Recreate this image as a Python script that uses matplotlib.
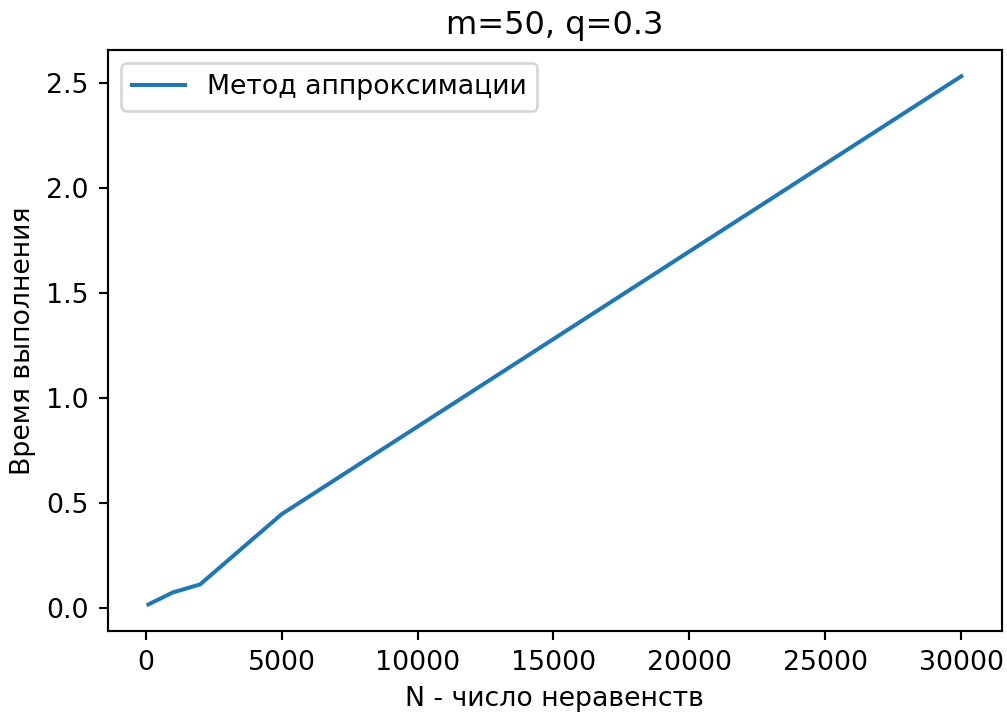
import matplotlib
matplotlib.use("Agg")
import matplotlib.pyplot as plt

n_values = [100, 1000, 2000, 5000, 30000]
times = [0.019, 0.076, 0.114, 0.448, 2.53]

DPI = 193
fig = plt.figure(figsize=(1007/DPI, 712/DPI), dpi=DPI)
ax = fig.add_axes([0.107, 0.114, 0.888, 0.816])
ax.plot(n_values, times, color="#1f77b4", linewidth=1.5, label="Метод аппроксимации")
ax.set_title("m=50, q=0.3")
ax.set_xlabel("N - число неравенств")
ax.set_ylabel("Время выполнения")
ax.legend(loc="upper left")
fig.savefig("out.png", dpi=DPI)
